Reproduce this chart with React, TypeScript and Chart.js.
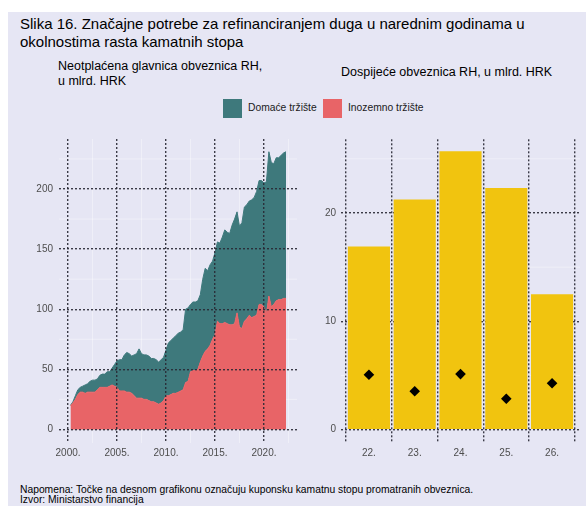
import React, { useEffect, useRef } from "react";
import { Chart, registerables } from "chart.js";

Chart.register(...registerables);

const FONT = '"Liberation Sans", Arial, Helvetica, sans-serif';
const BG = "#E6E6F4";
const TEAL = "#3E797C";
const RED = "#E86467";
const YELLOW = "#F1C40F";
const GRID = "rgba(40,40,52,0.9)";
const MINOR = "rgba(255,255,255,0.55)";
const TICK_COLOR = "#4D4D4D";

// ---- Left chart: outstanding principal (quarterly, bn HRK) ----
const quarters = [
  2000.25, 2000.5, 2000.75, 2001.0, 2001.25, 2001.5, 2001.75, 2002.0, 2002.25, 2002.5, 2002.75,
  2003.0, 2003.25, 2003.5, 2003.75, 2004.0, 2004.25, 2004.5, 2004.75, 2005.0, 2005.25, 2005.5,
  2005.75, 2006.0, 2006.25, 2006.5, 2006.75, 2007.0, 2007.25, 2007.5, 2007.75, 2008.0, 2008.25,
  2008.5, 2008.75, 2009.0, 2009.25, 2009.5, 2009.75, 2010.0, 2010.25, 2010.5, 2010.75, 2011.0,
  2011.25, 2011.5, 2011.75, 2012.0, 2012.25, 2012.5, 2012.75, 2013.0, 2013.25, 2013.5, 2013.75,
  2014.0, 2014.25, 2014.5, 2014.75, 2015.0, 2015.25, 2015.5, 2015.75, 2016.0, 2016.25, 2016.5,
  2016.75, 2017.0, 2017.25, 2017.5, 2017.75, 2018.0, 2018.25, 2018.5, 2018.75, 2019.0, 2019.25,
  2019.5, 2019.75, 2020.0, 2020.25, 2020.5, 2020.75, 2021.0, 2021.25, 2021.5, 2021.75, 2022.0,
  2022.25,
];
const foreignMarket = [
  20, 22, 25, 29, 31, 31, 30, 31, 31, 31, 31,
  33, 35, 35, 35, 35, 36, 37, 36, 35, 32, 32,
  32, 31, 31, 30, 28, 26, 26, 26, 25, 25, 24,
  23, 23, 22, 21, 22, 24, 28, 28, 29, 30, 30,
  31, 32, 33, 39, 40, 48, 49, 49, 50, 56, 61,
  65, 67, 70, 75, 79, 90, 88, 88, 89, 88, 87,
  87, 88, 97, 85, 84, 90, 92, 95, 93, 94, 95,
  104, 104, 102, 96, 111, 102, 104, 107, 108, 108, 109,
  109,
];
const domesticMarket = [
  0, 1, 3, 4, 4, 5, 7, 7, 9, 10, 10,
  9, 10, 11, 11, 13, 12, 14, 18, 22, 26, 26,
  30, 33, 32, 31, 34, 37, 41, 37, 37, 37, 37,
  36, 36, 36, 35, 36, 36, 38, 44, 45, 46, 48,
  49, 49, 50, 61, 61, 56, 57, 57, 57, 56, 64,
  69, 65, 67, 65, 68, 66, 67, 72, 77, 76, 76,
  83, 87, 84, 84, 88, 95, 95, 95, 98, 99, 103,
  103, 103, 103, 110, 120, 120, 117, 119, 118, 120, 121,
  122,
];
const leftXTicks = [2000, 2005, 2010, 2015, 2020];
const leftYTicks = [0, 50, 100, 150, 200];
const leftMinorX = [2002.5, 2007.5, 2012.5, 2017.5, 2022.5];
const leftMinorY = [25, 75, 125, 175, 225];

// ---- Right chart: maturities (bn HRK) and coupon rates ----
const maturityYears = [22, 23, 24, 25, 26];
const maturityAmounts = [16.9, 21.25, 25.7, 22.3, 12.5];
const couponRates = [5.07, 3.54, 5.13, 2.86, 4.28];
const rightYTicks = [0, 10, 20];
const rightMinorY = [5, 15, 25];

const minorGridPlugin = {
  id: "minorGrid",
  beforeDatasetsDraw(chart: any, _args: any, opts: any) {
    const { ctx, chartArea } = chart;
    const { left, right, top, bottom } = chartArea;
    const xs = chart.scales.x;
    const ys = chart.scales.y;
    ctx.save();
    ctx.strokeStyle = opts.color || MINOR;
    ctx.lineWidth = 0.7;
    (opts.xs || []).forEach((v: number) => {
      const px = xs.getPixelForValue(v);
      ctx.beginPath();
      ctx.moveTo(px, top);
      ctx.lineTo(px, bottom);
      ctx.stroke();
    });
    (opts.ys || []).forEach((v: number) => {
      const py = ys.getPixelForValue(v);
      ctx.beginPath();
      ctx.moveTo(left, py);
      ctx.lineTo(right, py);
      ctx.stroke();
    });
    ctx.restore();
  },
};

const tickFont = { family: FONT, size: 10 };

function gridOpts(z: number) {
  return {
    color: GRID,
    lineWidth: 1.4,
    drawTicks: false,
    z,
    borderDash: [2, 2],
  };
}
const borderOpts = { display: false, dash: [2, 2] };

const fitX = (s: any) => {
  s.height = 23;
  s.paddingLeft = 0;
  s.paddingRight = 0;
  s.paddingTop = 0;
  s.paddingBottom = 0;
};
const fitY = (w: number) => (s: any) => {
  s.width = w;
  s.paddingTop = 0;
  s.paddingBottom = 0;
  s.paddingLeft = 0;
  s.paddingRight = 0;
};

export default function App() {
  const leftRef = useRef<HTMLCanvasElement>(null);
  const rightRef = useRef<HTMLCanvasElement>(null);

  useEffect(() => {
    const left = new Chart(leftRef.current as HTMLCanvasElement, {
      type: "line",
      data: {
        datasets: [
          {
            label: "Inozemno tržište",
            data: quarters.map((q, i) => ({ x: q, y: foreignMarket[i] })),
            backgroundColor: RED,
            borderColor: RED,
            borderWidth: 1,
            pointRadius: 0,
            fill: "origin",
            tension: 0,
          },
          {
            label: "Domaće tržište",
            data: quarters.map((q, i) => ({ x: q, y: domesticMarket[i] })),
            backgroundColor: TEAL,
            borderColor: TEAL,
            borderWidth: 1,
            pointRadius: 0,
            fill: "-1",
            tension: 0,
          },
        ],
      },
      options: {
        animation: false,
        responsive: false,
        maintainAspectRatio: false,
        devicePixelRatio: 1,
        layout: { padding: { top: 5, right: 3, left: 0, bottom: 0 } },
        plugins: {
          legend: { display: false },
          tooltip: { enabled: false },
          minorGrid: { xs: leftMinorX, ys: leftMinorY },
        } as any,
        scales: {
          x: {
            type: "linear",
            min: 1999.08,
            max: 2023.37,
            grid: gridOpts(1),
            border: borderOpts,
            afterBuildTicks: (s: any) => {
              s.ticks = leftXTicks.map((v) => ({ value: v }));
            },
            afterFit: fitX,
            ticks: {
              font: tickFont,
              color: TICK_COLOR,
              padding: 4,
              maxRotation: 0,
              autoSkip: false,
              callback: (v: any) => `${v}.`,
            },
          },
          y: {
            type: "linear",
            stacked: true,
            min: -11.3,
            max: 241.6,
            grid: gridOpts(1),
            border: borderOpts,
            afterBuildTicks: (s: any) => {
              s.ticks = leftYTicks.map((v) => ({ value: v }));
            },
            afterFit: fitY(49),
            ticks: {
              font: tickFont,
              color: TICK_COLOR,
              padding: 6,
              callback: (v: any) => `${v}`,
            },
          },
        },
      },
      plugins: [minorGridPlugin as any],
    });

    const right = new Chart(rightRef.current as HTMLCanvasElement, {
      type: "bar",
      data: {
        datasets: [
          {
            type: "scatter",
            label: "Kuponska stopa",
            data: maturityYears.map((c, i) => ({ x: c, y: couponRates[i] })),
            pointStyle: "rectRot",
            pointRadius: 5.3,
            backgroundColor: "#000",
            borderColor: "#000",
            borderWidth: 0,
            order: 0,
          } as any,
          {
            type: "bar",
            label: "Dospijeće",
            data: maturityYears.map((c, i) => ({ x: c, y: maturityAmounts[i] })),
            backgroundColor: YELLOW,
            borderWidth: 0,
            barPercentage: 0.92,
            categoryPercentage: 1,
            order: 1,
          },
        ],
      },
      options: {
        animation: false,
        responsive: false,
        maintainAspectRatio: false,
        devicePixelRatio: 1,
        layout: { padding: { top: 5, right: 6, left: 0, bottom: 0 } },
        plugins: {
          legend: { display: false },
          tooltip: { enabled: false },
          minorGrid: { xs: [], ys: rightMinorY },
        } as any,
        scales: {
          x: {
            type: "linear",
            min: 21.39,
            max: 26.61,
            offset: false,
            grid: gridOpts(0),
            border: borderOpts,
            afterBuildTicks: (s: any) => {
              s.ticks = maturityYears.map((v) => ({ value: v }));
            },
            afterFit: fitX,
            ticks: {
              font: tickFont,
              color: TICK_COLOR,
              padding: 4,
              maxRotation: 0,
              autoSkip: false,
              callback: (v: any) => `${v}.`,
            },
          },
          y: {
            type: "linear",
            min: -1.23,
            max: 26.8,
            grid: gridOpts(0),
            border: borderOpts,
            afterBuildTicks: (s: any) => {
              s.ticks = rightYTicks.map((v) => ({ value: v }));
            },
            afterFit: fitY(41),
            ticks: {
              font: tickFont,
              color: TICK_COLOR,
              padding: 5,
              callback: (v: any) => `${v}`,
            },
          },
        },
      },
      plugins: [minorGridPlugin as any],
    });

    return () => {
      left.destroy();
      right.destroy();
    };
  }, []);

  const abs = (l: number, t: number, extra: any = {}) => ({
    position: "absolute" as const,
    left: l,
    top: t,
    whiteSpace: "nowrap" as const,
    ...extra,
  });

  return (
    <div
      style={{
        position: "absolute",
        left: 0,
        top: 0,
        width: 586,
        height: 506,
        overflow: "hidden",
        fontFamily: FONT,
        color: "#000",
      }}
    >
      <div style={abs(8, 12, { width: 578, height: 494, background: BG })} />
      <div style={abs(20, 15, { fontSize: 15, lineHeight: "18px" })}>
        Slika 16. Značajne potrebe za refinanciranjem duga u narednim godinama u
        <br />
        okolnostima rasta kamatnih stopa
      </div>
      <div style={abs(58, 58.5, { fontSize: 12.5, lineHeight: "15px" })}>
        Neotplaćena glavnica obveznica RH,
        <br />u mlrd. HRK
      </div>
      <div style={abs(341, 64.5, { fontSize: 12.5, lineHeight: "15px" })}>
        Dospijeće obveznica RH, u mlrd. HRK
      </div>
      <div style={abs(223, 98.5, { width: 19, height: 19, background: TEAL })} />
      <div style={abs(248, 101.5, { fontSize: 10.3, lineHeight: "12px", color: "#1a1a1a" })}>
        Domaće tržište
      </div>
      <div style={abs(323, 98.5, { width: 19, height: 19, background: RED })} />
      <div style={abs(348, 101.5, { fontSize: 10.3, lineHeight: "12px", color: "#1a1a1a" })}>
        Inozemno tržište
      </div>
      <canvas ref={leftRef} width={290} height={332} style={abs(10, 134, { width: 290, height: 332 })} />
      <canvas ref={rightRef} width={286} height={332} style={abs(300, 134, { width: 286, height: 332 })} />
      <div style={abs(20, 484.5, { fontSize: 10.3, lineHeight: "10.5px" })}>
        Napomena: Točke na desnom grafikonu označuju kuponsku kamatnu stopu promatranih obveznica.
        <br />
        Izvor: Ministarstvo financija
      </div>
    </div>
  );
}
